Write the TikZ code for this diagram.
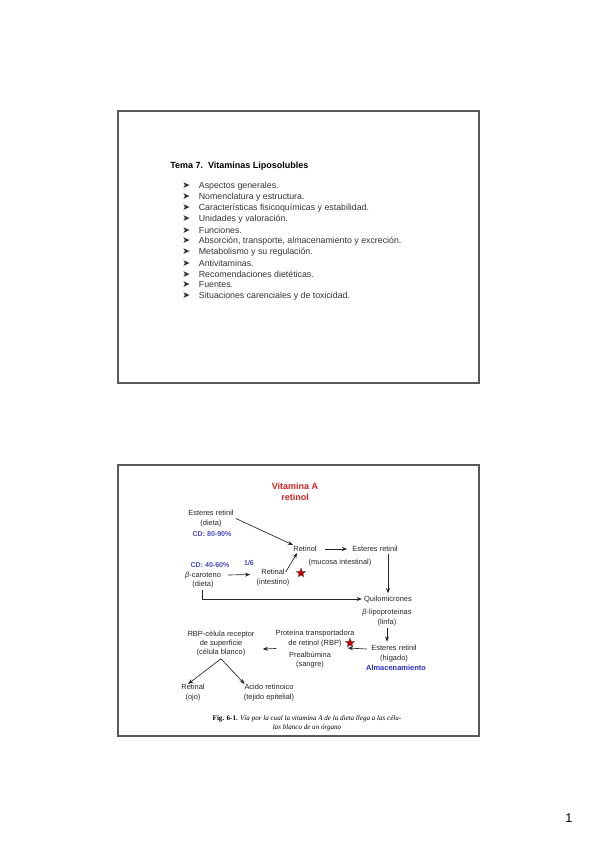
\documentclass[tikz,border=0pt]{standalone}
\usepackage{fontspec}
\setmainfont{Liberation Sans}
\newfontfamily\capfont{Liberation Serif}
\newfontfamily\symfont{DejaVu Sans}
\usetikzlibrary{shapes.geometric, arrows.meta, positioning, calc}
\definecolor{vitred}{RGB}{210,35,35}
\definecolor{cdblue}{RGB}{75,75,190}
\definecolor{almblue}{RGB}{45,45,200}
\newcommand{\vbul}{{\symfont\fontsize{7}{7}\selectfont ➤}\hspace{6.6pt}}

\begin{document}
\begin{tikzpicture}[
    x=0.75pt, y=-0.75pt,
    slide/.style={draw=black!65, line width=1.5pt},
    tema/.style={font=\bfseries\fontsize{6.75}{8}\selectfont, anchor=west, inner sep=0pt},
    item/.style={font=\fontsize{6.6}{8}\selectfont, text=black!80, anchor=west, inner sep=0pt},
    lbl/.style={font=\fontsize{5.6}{7.1}\selectfont, align=center, inner sep=1.5pt, text=black!85},
    cd/.style={font=\bfseries\fontsize{5.3}{6.5}\selectfont, text=cdblue, inner sep=1pt},
    starmark/.style={star, star points=5, star point ratio=2.3, fill=red!75!black, draw=black!60, line width=0.3pt, minimum size=7.5pt, inner sep=0pt},
    arr/.style={-{Stealth[length=4pt, width=3pt]}, line width=0.5pt, black!85}
]
\useasboundingbox (0,0) rectangle (599,848);

% slide 1
\draw[slide] (118,111) rectangle (479,383);
\node[tema] (tema) at (170,166) {Tema 7.\ \ Vitaminas Liposolubles};
\node[item] (it1) at (182,186) {\vbul Aspectos generales.};
\node[item] (it2) at (182,197) {\vbul Nomenclatura y estructura.};
\node[item] (it3) at (182,208) {\vbul Características fisicoquímicas y estabilidad.};
\node[item] (it4) at (182,219) {\vbul Unidades y valoración.};
\node[item] (it5) at (182,230) {\vbul Funciones.};
\node[item] (it6) at (182,241) {\vbul Absorción, transporte, almacenamiento y excreción.};
\node[item] (it7) at (182,252) {\vbul Metabolismo y su regulación.};
\node[item] (it8) at (182,263) {\vbul Antivitaminas.};
\node[item] (it9) at (182,274) {\vbul Recomendaciones dietéticas.};
\node[item] (it10) at (182,285) {\vbul Fuentes.};
\node[item] (it11) at (182,296) {\vbul Situaciones carenciales y de toxicidad.};

% slide 2
\draw[slide] (118,465) rectangle (479,736);
\node[font=\bfseries\fontsize{6.75}{8.25}\selectfont, text=vitred, align=center] (vita) at (295,491.5) {Vitamina A\\retinol};

\node[lbl] (estd) at (211,518.5) {Esteres retinil\\(dieta)};
\node[cd] (cd1) at (212,534) {CD: 80-90\%};
\node[lbl] (retinol) at (305,549) {Retinol};
\node[lbl] (estm) at (375,549) {Esteres retinil};
\node[lbl] (mucosa) at (340,563) {(mucosa intestinal)};
\node[cd] (cd2) at (210,565) {CD: 40-60\%};
\node[cd] (frac) at (249,563) {1/6};
\node[lbl] (bcar) at (203,580) {\textit{β}-caroteno\\(dieta)};
\node[lbl] (retinal) at (273,577.5) {Retinal\\(intestino)};
\node[starmark] (star1) at (301,573) {};
\node[lbl] (quilo) at (388,599) {Quilomicrones};
\node[lbl] (lipo) at (387,617.5) {\textit{β}-lipoproteinas\\(linfa)};
\node[lbl] (esth) at (394,653.5) {Esteres retinil\\(hígado)};
\node[font=\bfseries\fontsize{5.6}{7}\selectfont, text=almblue, inner sep=1pt] (almac) at (396,668) {Almacenamiento};
\node[lbl] (rbp) at (315,638.5) {Proteína transportadora\\de retinol (RBP)};
\node[starmark] (star2) at (350,643) {};
\node[lbl] (prealb) at (310,660) {Prealbúmina\\(sangre)};
\node[lbl] (rbpc) at (221,643.5) {RBP-célula receptor\\de superficie\\(célula blanco)};
\node[lbl] (retojo) at (193,692.5) {Retinal\\(ojo)};
\node[lbl] (acido) at (269,692.5) {Acido retinoico\\(tejido epitelial)};

\draw[arr] (estd.east) -- ([shift={(2,1)}]retinol.north west);
\draw[arr] ([shift={(6,0)}]retinol.east) -- ([shift={(-3,0)}]estm.west);
\draw[arr] (estm.south -| quilo.north) -- (quilo.north);
\draw[arr] ([shift={(-6,5)}]retinal.north east) -- ([shift={(6,-1)}]retinol.south west);
\draw[arr] ([shift={(5,-5)}]bcar.east) -- ([shift={(-4,-3)}]retinal.west);
\draw[arr] ([shift={(-1,0)}]bcar.south) |- (quilo.west);
\draw[arr] (lipo.south) -- ([yshift=1pt]lipo.south |- esth.north);
\draw[arr] ([shift={(-2,-4.5)}]esth.west) -- ([shift={(-9,-1)}]rbp.south east);
\draw[arr] ([shift={(3,10)}]rbp.west) -- ([shift={(6,5.5)}]rbpc.east);
\draw[arr] (rbpc.south) -- ([shift={(-5,2)}]retojo.north);
\draw[arr] (rbpc.south) -- ([shift={(3,2)}]acido.north west);

\node[font=\capfont\fontsize{5.3}{6.9}\selectfont, align=center, inner sep=0pt] (cap) at (307,723.5)
  {\textbf{Fig. 6-1.} \textit{Vía por la cual la vitamina A de la dieta llega a las célu-}\\\textit{las blanco de un órgano}};

\node[font=\fontsize{9.5}{11}\selectfont] (pnum) at (569,818) {1};
\end{tikzpicture}
\end{document}
